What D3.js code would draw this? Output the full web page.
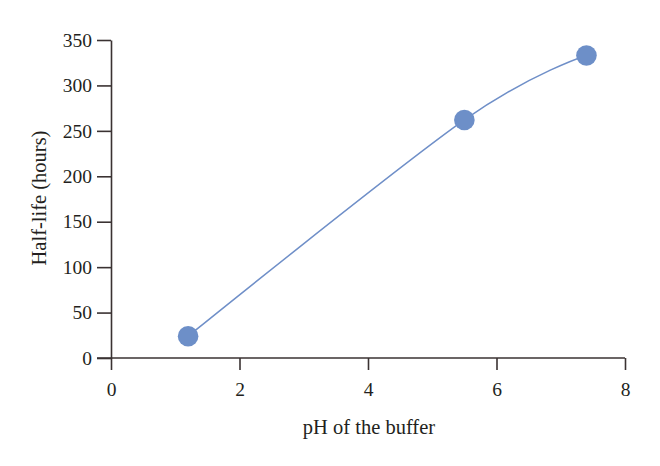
<!DOCTYPE html>
<html><head><meta charset="utf-8">
<script src="https://cdn.jsdelivr.net/npm/d3@7"></script>
<style>
body{margin:0;background:#fff;}
text{font-family:"Liberation Serif","DejaVu Serif",serif;fill:#231f20;}
</style></head>
<body><svg id="c" width="660" height="466"></svg>
<script>
const pH = [1.2, 5.5, 7.4];
const halfLife = [24, 262, 333];
const xTicks = [0, 2, 4, 6, 8];
const yTicks = [0, 50, 100, 150, 200, 250, 300, 350];

const svg = d3.select("#c");
const x = d3.scaleLinear().domain([0, 8]).range([111, 625]);
const y = d3.scaleLinear().domain([0, 350]).range([358, 40]);
const axisColor = "#3a3232";

const gx = svg.append("g").attr("transform", "translate(0,358)")
  .call(d3.axisBottom(x).tickValues(xTicks).tickSize(12).tickPadding(12).tickSizeOuter(0));
const gy = svg.append("g").attr("transform", "translate(111,0)")
  .call(d3.axisLeft(y).tickValues(yTicks).tickSize(14).tickPadding(5).tickSizeOuter(0));
[gx, gy].forEach(g => {
  g.select(".domain").attr("stroke", axisColor).attr("stroke-width", 1.6);
  g.selectAll(".tick line").attr("stroke", axisColor).attr("stroke-width", 1.6);
  g.selectAll(".tick text").style("font-family", '"Liberation Serif",serif').style("font-size", "19.5px").attr("fill", "#231f20");
});
gx.select(".domain").attr("d", `M97,0H${x(8)}`);

const pts = pH.map((v, i) => [v, halfLife[i]]);
const line = d3.line().x(d => x(d[0])).y(d => y(d[1])).curve(d3.curveCardinal.tension(0));
svg.append("path").datum(pts).attr("d", line).attr("fill", "none")
  .attr("stroke", "#6f8fc8").attr("stroke-width", 1.5);
svg.selectAll("circle.p").data(pts).enter().append("circle")
  .attr("cx", d => x(d[0])).attr("cy", d => y(d[1])).attr("r", 10.3)
  .attr("fill", "#6d8fc8");

svg.append("text").attr("x", 369).attr("y", 434).attr("text-anchor", "middle")
  .style("font-size", "20.5px").text("pH of the buffer");
svg.append("text").attr("transform", "translate(46,198) rotate(-90)").attr("text-anchor", "middle")
  .style("font-size", "20.5px").text("Half-life (hours)");
</script></body></html>
